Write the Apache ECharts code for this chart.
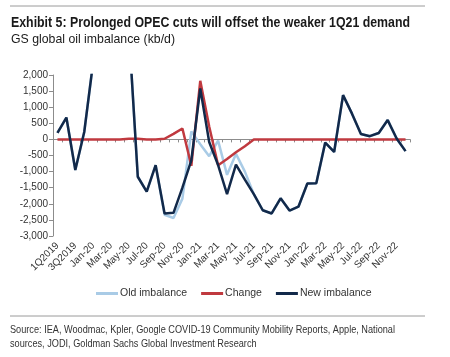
<!DOCTYPE html>
<html>
<head>
<meta charset="utf-8">
<script src="https://cdn.jsdelivr.net/npm/echarts@6/dist/echarts.min.js"></script>
<style>
html,body{margin:0;padding:0;background:#fff;}
#chart{width:450px;height:357px;}
</style>
</head>
<body>
<div id="chart"></div>
<script>
const categories = ['1Q2019','2Q2019','3Q2019','4Q2019',
  'Jan-20','Feb-20','Mar-20','Apr-20','May-20','Jun-20','Jul-20','Aug-20','Sep-20','Oct-20','Nov-20','Dec-20',
  'Jan-21','Feb-21','Mar-21','Apr-21','May-21','Jun-21','Jul-21','Aug-21','Sep-21','Oct-21','Nov-21','Dec-21',
  'Jan-22','Feb-22','Mar-22','Apr-22','May-22','Jun-22','Jul-22','Aug-22','Sep-22','Oct-22','Nov-22','Dec-22'];

const newImbalance = [200, 680, -950, 230, 2400, 5000, 13000, 16000, 3400, -1160,
  -1620, -800, -2300, -2280, -1500, -650, 1580, -80, -800, -1700,
  -780, -1250, -1700, -2200, -2300, -1830, -2210, -2090, -1370, -1360,
  -100, -390, 1375, 800, 165, 100, 200, 600, 30, -365];

const change = [0, 0, 0, 0, 0, 0, 0, 0, 20, 20,
  0, 0, 20, 170, 340, -820, 1820, 400, -800, -610,
  -400, -210, 0, 0, 0, 0, 0, 0, 0, 0,
  0, 0, 0, 0, 0, 0, 0, 0, 0, 0];

const oldImbalance = [200, 680, -950, 230, 2400, 5000, 13000, 16000, 3400, -1160,
  -1620, -800, -2340, -2440, -1840, 250, -150, -520, -40, -1100,
  -450, -1000, -1700, -2200, -2300, -1830, -2210, -2090, -1370, -1360,
  -100, -390, 1375, 800, 165, 100, 200, 600, 30, -365];

const yTicks = {min: -3000, max: 2000, interval: 500};

const titleText = 'Exhibit 5: Prolonged OPEC cuts will offset the weaker 1Q21 demand';
const subtitleText = 'GS global oil imbalance (kb/d)';
const sourceLine1 = 'Source: IEA, Woodmac, Kpler, Google COVID-19 Community Mobility Reports, Apple, National';
const sourceLine2 = 'sources, JODI, Goldman Sachs Global Investment Research';

const SANS = "'Liberation Sans', Arial, sans-serif";

const mctx = document.createElement('canvas').getContext('2d');
function fitScale(text, font, target) {
  mctx.font = font;
  return target / mctx.measureText(text).width;
}

const titleFont = 'bold 14px ' + SANS;
const subFont = '13px ' + SANS;
const srcFont = '11.5px ' + SANS;
const sT = fitScale(titleText, titleFont, 399);
const sS = fitScale(subtitleText, subFont, 164);
const sR = fitScale(sourceLine1, srcFont, 385);

const chart = echarts.init(document.getElementById('chart'), null, {renderer: 'canvas'});

const fmt = v => {
  const s = Math.abs(v).toLocaleString('en-US');
  return (v < 0 ? '-' : '') + s;
};

chart.setOption({
  animation: false,
  backgroundColor: '#ffffff',
  graphic: [
    {type: 'line', shape: {x1: 10, y1: 6, x2: 425, y2: 6}, style: {stroke: '#9a9a9a', lineWidth: 1}},
    {type: 'text', x: 11, y: 16, scaleX: sT, style: {text: titleText, font: titleFont, fill: '#1a1a1a', textVerticalAlign: 'top'}},
    {type: 'text', x: 11, y: 33, scaleX: sS, style: {text: subtitleText, font: subFont, fill: '#1a1a1a', textVerticalAlign: 'top'}},
    {type: 'line', shape: {x1: 10, y1: 316, x2: 425, y2: 316}, style: {stroke: '#9a9a9a', lineWidth: 1}},
    {type: 'text', x: 10, y: 324, scaleX: sR, style: {text: sourceLine1, font: srcFont, fill: '#333333', textVerticalAlign: 'top'}},
    {type: 'text', x: 10, y: 338, scaleX: sR, style: {text: sourceLine2, font: srcFont, fill: '#333333', textVerticalAlign: 'top'}}
  ],
  legend: {
    left: 91, top: 283,
    icon: 'rect', itemWidth: 22, itemHeight: 3, itemGap: 14,
    textStyle: {fontFamily: SANS, fontSize: 10.5, color: '#333333', padding: [0,0,0,-3]},
    data: ['Old imbalance', 'Change', 'New imbalance']
  },
  grid: {left: 53, right: 40, top: 75, bottom: 121, containLabel: false},
  xAxis: [
    {
      type: 'category', data: categories, position: 'bottom', boundaryGap: true,
      axisLine: {show: false, onZero: false}, axisTick: {show: false},
      axisLabel: {interval: 1, rotate: 45, margin: 8, fontFamily: SANS, fontSize: 10, color: '#333333'}
    },
    {
      type: 'category', data: categories, position: 'bottom', boundaryGap: true,
      axisLine: {show: true, onZero: true, lineStyle: {color: '#8c8c8c', width: 1}},
      axisTick: {show: true, interval: 0, length: 3, lineStyle: {color: '#8c8c8c'}},
      axisLabel: {show: false}
    }
  ],
  yAxis: {
    type: 'value', min: yTicks.min, max: yTicks.max, interval: yTicks.interval,
    splitLine: {show: false},
    axisLine: {show: true, lineStyle: {color: '#8c8c8c'}},
    axisTick: {show: true, length: 4, lineStyle: {color: '#8c8c8c'}},
    axisLabel: {formatter: fmt, fontFamily: SANS, fontSize: 10, color: '#333333', margin: 5}
  },
  series: [
    {name: 'Old imbalance', type: 'line', data: oldImbalance, xAxisIndex: 0, symbol: 'none', clip: true,
      lineStyle: {color: '#a9cbe6', width: 2.5}, itemStyle: {color: '#a9cbe6'}},
    {name: 'Change', type: 'line', data: change, xAxisIndex: 0, symbol: 'none', clip: true,
      lineStyle: {color: '#c0393f', width: 2.5}, itemStyle: {color: '#c0393f'}},
    {name: 'New imbalance', type: 'line', data: newImbalance, xAxisIndex: 0, symbol: 'none', clip: true,
      lineStyle: {color: '#12294a', width: 2.5}, itemStyle: {color: '#12294a'}}
  ]
});
</script>
</body>
</html>
